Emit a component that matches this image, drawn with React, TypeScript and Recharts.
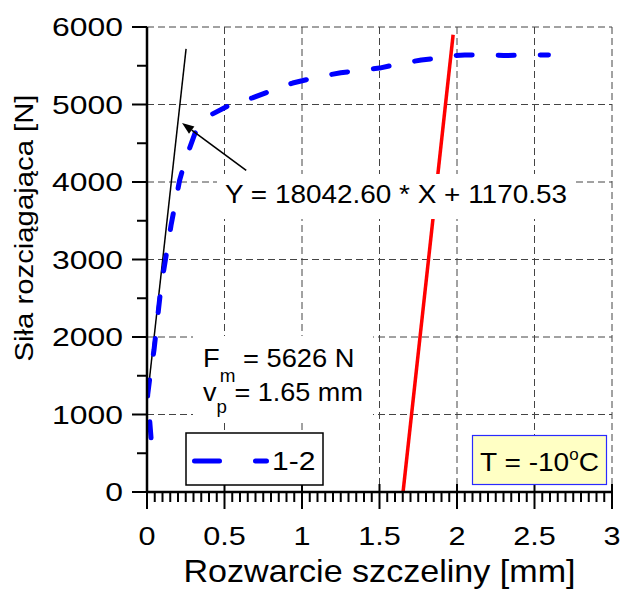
import React from 'react';
import { LineChart, Line, XAxis, YAxis, CartesianGrid, ReferenceLine, Label } from 'recharts';

const FONT = '"Liberation Sans", Arial, Helvetica, sans-serif';

// Series "1-2" (crack opening [mm] vs. tensile force [N])
const curveX = [0.026, 0.004, 0.02, 0.045, 0.09, 0.155, 0.21, 0.25, 0.31, 0.41, 0.56, 0.68, 0.83, 0.94, 1.1, 1.25, 1.5, 1.65, 1.77, 1.89, 1.97, 2.05, 2.23, 2.3, 2.59];
const curveY = [700, 1250, 1500, 1830, 2640, 3440, 4020, 4300, 4630, 4865, 5020, 5085, 5200, 5277, 5355, 5410, 5470, 5535, 5574, 5600, 5630, 5639, 5640, 5632, 5640];

// Linear fit Y = 18042.60 * X + 1170.53
const fitX = [0, 0.252];
const fitY = [1170.53, 5717];

// Red line (v_p)
const redX = [1.652, 1.975];
const redY = [0, 5900];

// Arrow annotation (tail -> tip)
const arrowX = [0.64, 0.226];
const arrowY = [4150, 4760];

// Axis ticks
const xTickLabels = ['0', '0.5', '1', '1.5', '2', '2.5', '3'];
const xMajor = [0, 0.5, 1, 1.5, 2, 2.5, 3];
const xAll = [0, 0.05, 0.1, 0.15, 0.2, 0.25, 0.3, 0.35, 0.4, 0.45, 0.5, 0.55, 0.6, 0.65, 0.7, 0.75, 0.8, 0.85, 0.9, 0.95,
  1, 1.05, 1.1, 1.15, 1.2, 1.25, 1.3, 1.35, 1.4, 1.45, 1.5, 1.55, 1.6, 1.65, 1.7, 1.75, 1.8, 1.85, 1.9, 1.95,
  2, 2.05, 2.1, 2.15, 2.2, 2.25, 2.3, 2.35, 2.4, 2.45, 2.5, 2.55, 2.6, 2.65, 2.7, 2.75, 2.8, 2.85, 2.9, 2.95, 3];
const yTickLabels = ['0', '1000', '2000', '3000', '4000', '5000', '6000'];
const yMajor = [0, 1000, 2000, 3000, 4000, 5000, 6000];
const yAll = [0, 500, 1000, 1500, 2000, 2500, 3000, 3500, 4000, 4500, 5000, 5500, 6000];
const gridX = [0.5, 1, 1.5, 2, 2.5, 3];
const gridY = [1000, 2000, 3000, 4000, 5000, 6000];

const curveData = curveX.map((x, i) => ({ x, y: curveY[i] }));
const fitData = fitX.map((x, i) => ({ x, y: fitY[i] }));
const redData = redX.map((x, i) => ({ x, y: redY[i] }));

const XTick = (props: any) => {
  const { x, y, payload } = props;
  const v = payload.value;
  const idx = xMajor.findIndex((m) => Math.abs(m - v) < 1e-6);
  const major = idx >= 0;
  return (
    <g>
      <line x1={x} x2={x} y1={major ? y - 8 : y} y2={major ? y + 17 : y + 10} stroke="#000" strokeWidth={2} />
      {major && (
        <text transform={`translate(${x},${y + 53}) scale(1.2,1)`} textAnchor="middle" fontSize={25.5} fontFamily={FONT} fill="#000">
          {xTickLabels[idx]}
        </text>
      )}
    </g>
  );
};

const YTick = (props: any) => {
  const { x, y, payload } = props;
  const v = payload.value;
  const idx = yMajor.findIndex((m) => Math.abs(m - v) < 1e-6);
  const major = idx >= 0;
  return (
    <g>
      <line x1={major ? x - 15 : x - 10} x2={x} y1={y} y2={y} stroke="#000" strokeWidth={2} />
      {major && (
        <text transform={`translate(${x - 24},${y + 9}) scale(1.25,1)`} textAnchor="end" fontSize={25.5} fontFamily={FONT} fill="#000">
          {yTickLabels[idx]}
        </text>
      )}
    </g>
  );
};

const ArrowShape = (p: any) => {
  const { x1, y1, x2, y2 } = p;
  if ([x1, y1, x2, y2].some((v) => typeof v !== 'number' || isNaN(v))) return null;
  const dx = x2 - x1;
  const dy = y2 - y1;
  const len = Math.hypot(dx, dy) || 1;
  const ux = dx / len;
  const uy = dy / len;
  const hl = 12;
  const hw = 4.5;
  const bx = x2 - ux * hl;
  const by = y2 - uy * hl;
  return (
    <g>
      <line x1={x1} y1={y1} x2={bx} y2={by} stroke="#000" strokeWidth={1.6} />
      <polygon points={`${x2},${y2} ${bx - uy * hw},${by + ux * hw} ${bx + uy * hw},${by - ux * hw}`} fill="#000" />
    </g>
  );
};

const XTitle = (props: any) => {
  const vb = props.viewBox || { x: 147, y: 492, width: 465, height: 98 };
  return (
    <text x={vb.x + vb.width / 2} y={vb.y + 90} textAnchor="middle" fontSize={30.5} fontFamily={FONT} fill="#000"
      textLength={392} lengthAdjust="spacingAndGlyphs">
      Rozwarcie szczeliny [mm]
    </text>
  );
};

const YTitle = (props: any) => {
  const vb = props.viewBox || { x: 0, y: 27, width: 147, height: 465 };
  const cx = vb.x + 33;
  const cy = vb.y + 201;
  return (
    <text transform={`translate(${cx},${cy}) rotate(-90)`} x={0} y={0} textAnchor="middle" fontSize={26.5} fontFamily={FONT} fill="#000"
      textLength={267} lengthAdjust="spacingAndGlyphs">
      Siła rozciągająca [N]
    </text>
  );
};

const Overlay = () => (
  <svg width={622} height={590} style={{ position: 'absolute', left: 0, top: 0, pointerEvents: 'none' }}>
    {/* equation */}
    <rect x={217} y={174} width={358} height={45} fill="#fff" />
    <text x={225} y={203} fontSize={25.5} fontFamily={FONT} fill="#000" textLength={342} lengthAdjust="spacingAndGlyphs">
      Y = 18042.60 * X + 1170.53
    </text>
    {/* Fm / vp */}
    <rect x={193} y={336} width={180} height={84} fill="#fff" />
    <text transform="translate(203,367) scale(1.05,1)" fontSize={26} fontFamily={FONT} fill="#000">
      F<tspan fontSize={18} dy={15}>m</tspan><tspan dy={-15}> = 5626 N</tspan>
    </text>
    <text transform="translate(203,401) scale(1.04,1)" fontSize={26} fontFamily={FONT} fill="#000">
      v<tspan fontSize={18} dy={12}>p</tspan><tspan dy={-12}> = 1.65 mm</tspan>
    </text>
    {/* legend */}
    <rect x={186} y={433} width={137} height={52} fill="#fff" stroke="#000" strokeWidth={1.5} />
    <line x1={194.5} y1={461} x2={266.5} y2={461} stroke="#0000ff" strokeWidth={5} strokeLinecap="round" strokeDasharray="25 36" />
    <text transform="translate(272,470) scale(1.2,1)" fontSize={25} fontFamily={FONT} fill="#000">1-2</text>
    {/* temperature */}
    <rect x={472.5} y={435.5} width={134} height={49} fill="#ffffc4" stroke="#2a2aff" strokeWidth={1.2} />
    <text transform="translate(480,471) scale(1.06,1)" fontSize={26.5} fontFamily={FONT} fill="#000">
      T = -10<tspan fontSize={16} dy={-11}>o</tspan><tspan dy={11}>C</tspan>
    </text>
  </svg>
);

export default function App() {
  return (
    <div style={{ position: 'absolute', left: 0, top: 0, width: 622, height: 590, background: '#fff' }}>
      <LineChart width={622} height={590} margin={{ top: 27, right: 10, bottom: 0, left: 0 }}>
        <XAxis xAxisId="g" type="number" dataKey="x" domain={[0, 3]} ticks={gridX} allowDataOverflow hide />
        <YAxis yAxisId="g" type="number" dataKey="y" domain={[0, 6000]} ticks={gridY} allowDataOverflow hide />
        <CartesianGrid xAxisId="g" yAxisId="g" stroke="#444" strokeDasharray="7 4" strokeWidth={1} />
        <XAxis type="number" dataKey="x" domain={[0, 3]} ticks={xAll} interval={0} allowDataOverflow
          tick={(p: any) => <XTick {...p} />} tickLine={false} tickSize={0} tickMargin={0} height={98}
          axisLine={{ stroke: '#000', strokeWidth: 2.5 }}>
          <Label content={(p: any) => <XTitle {...p} />} />
        </XAxis>
        <YAxis type="number" dataKey="y" domain={[0, 6000]} ticks={yAll} interval={0} allowDataOverflow
          tick={(p: any) => <YTick {...p} />} tickLine={false} tickSize={0} tickMargin={0} width={147}
          axisLine={{ stroke: '#000', strokeWidth: 2.5 }}>
          <Label content={(p: any) => <YTitle {...p} />} />
        </YAxis>
        <Line data={fitData} dataKey="y" stroke="#000" strokeWidth={1.5} dot={false} activeDot={false} isAnimationActive={false} />
        <Line data={curveData} dataKey="y" stroke="#0000ff" strokeWidth={5} strokeLinecap="round" strokeLinejoin="round"
          strokeDasharray="16 26" dot={false} activeDot={false} isAnimationActive={false} />
        <Line data={redData} dataKey="y" stroke="#ff0000" strokeWidth={3.5} dot={false} activeDot={false} isAnimationActive={false} />
        <ReferenceLine segment={[{ x: arrowX[0], y: arrowY[0] }, { x: arrowX[1], y: arrowY[1] }]} shape={(p: any) => <ArrowShape {...p} />} />
      </LineChart>
      <Overlay />
    </div>
  );
}
